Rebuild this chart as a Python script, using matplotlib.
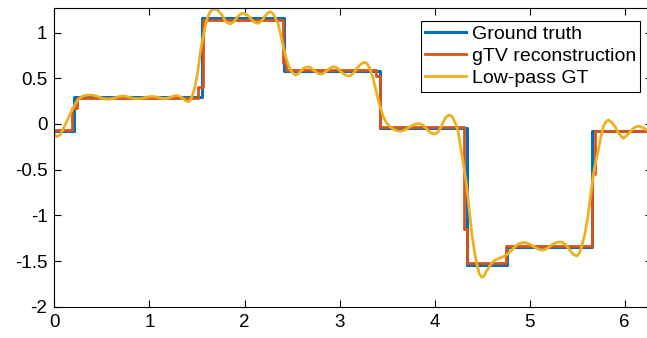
import numpy as np
import matplotlib
matplotlib.use("Agg")
import matplotlib.pyplot as plt

plt.rcParams['font.family'] = ['Liberation Sans', 'DejaVu Sans']
plt.rcParams['axes.unicode_minus'] = False

# ground truth: piecewise constant on [0, 2pi]
gt_edges = [0, 0.203, 1.556, 2.416, 3.426, 4.338, 4.76, 5.66, 2 * np.pi]
gt_levels = [-0.08, 0.29, 1.155, 0.58, -0.05, -1.545, -1.345, -0.08]

# gTV reconstruction (steps, with one transition sample at most jumps)
tv_edges = [0, 0.19, 0.24, 1.514, 1.56, 2.40, 2.437, 3.384, 3.426,
            4.313, 4.34, 4.75, 5.653, 5.69, 2 * np.pi]
tv_levels = [-0.07, 0.17, 0.28, 0.40, 1.14, 0.67, 0.59, 0.52, -0.03,
             -1.153, -1.525, -1.336, -0.548, -0.075]

# low-pass GT
lp_x = [0.000, 0.027, 0.06, 0.10, 0.14, 0.18, 0.22, 0.26, 0.30, 0.35,
        0.39, 0.44, 0.48, 0.52, 0.564, 0.60, 0.64, 0.68, 0.722, 0.76,
        0.80, 0.84, 0.88, 0.92, 0.96, 1.00, 1.03, 1.07, 1.11, 1.14,
        1.174, 1.21, 1.25, 1.287, 1.32, 1.353, 1.38, 1.409, 1.43, 1.455,
        1.48, 1.51, 1.533, 1.56, 1.586, 1.61, 1.639, 1.67, 1.708, 1.74,
        1.764, 1.80, 1.848, 1.89, 1.924, 1.96, 1.995, 2.03, 2.069, 2.10,
        2.145, 2.18, 2.21, 2.245, 2.276, 2.30, 2.321, 2.356, 2.38, 2.408,
        2.435, 2.461, 2.49, 2.532, 2.56, 2.595, 2.63, 2.671, 2.71, 2.742,
        2.78, 2.813, 2.85, 2.879, 2.92, 2.953, 2.99, 3.026, 3.07, 3.11,
        3.15, 3.184, 3.23, 3.268, 3.29, 3.31, 3.335, 3.355, 3.38, 3.408,
        3.435, 3.461, 3.495, 3.531, 3.57, 3.61, 3.647, 3.69, 3.742, 3.79,
        3.82, 3.847, 3.88, 3.921, 3.96, 4.005, 4.04, 4.07, 4.10, 4.13,
        4.155, 4.18, 4.20, 4.225, 4.25, 4.268, 4.302, 4.338, 4.365, 4.391,
        4.417, 4.443, 4.47, 4.496, 4.52, 4.54, 4.565, 4.60, 4.636, 4.68,
        4.723, 4.76, 4.794, 4.84, 4.878, 4.92, 4.962, 5.01, 5.057, 5.10,
        5.144, 5.19, 5.236, 5.29, 5.338, 5.38, 5.415, 5.455, 5.496, 5.52,
        5.541, 5.56, 5.583, 5.61, 5.636, 5.66, 5.688, 5.723, 5.75, 5.775,
        5.80, 5.828, 5.86, 5.899, 5.94, 5.986, 6.03, 6.074, 6.11, 6.144,
        6.19, 6.232, 6.283]
lp_y = [-0.12, -0.14, -0.12, -0.04, 0.05, 0.14, 0.22, 0.28, 0.305, 0.315,
        0.316, 0.305, 0.29, 0.275, 0.27, 0.275, 0.287, 0.30, 0.305, 0.30,
        0.288, 0.278, 0.275, 0.28, 0.29, 0.298, 0.30, 0.295, 0.285, 0.279,
        0.278, 0.288, 0.303, 0.31, 0.30, 0.28, 0.255, 0.243, 0.26, 0.32,
        0.41, 0.58, 0.77, 0.93, 1.06, 1.16, 1.228, 1.255, 1.255, 1.22,
        1.19, 1.12, 1.093, 1.12, 1.17, 1.205, 1.21, 1.19, 1.15, 1.115,
        1.10, 1.13, 1.17, 1.215, 1.227, 1.205, 1.17, 1.09, 0.98, 0.845,
        0.73, 0.644, 0.58, 0.535, 0.545, 0.58, 0.615, 0.626, 0.605, 0.575,
        0.55, 0.546, 0.565, 0.595, 0.622, 0.626, 0.60, 0.56, 0.53, 0.524,
        0.56, 0.61, 0.66, 0.674, 0.66, 0.625, 0.56, 0.49, 0.38, 0.26,
        0.16, 0.079, 0.01, -0.03, -0.06, -0.077, -0.08, -0.065, -0.03, -0.005,
        0.002, 0.003, -0.015, -0.06, -0.10, -0.11, -0.085, -0.03, 0.04, 0.085,
        0.098, 0.085, 0.05, -0.01, -0.09, -0.22, -0.43, -0.68, -0.94, -1.197,
        -1.38, -1.525, -1.64, -1.678, -1.665, -1.62, -1.58, -1.525, -1.489, -1.47,
        -1.453, -1.43, -1.398, -1.35, -1.315, -1.30, -1.30, -1.32, -1.35, -1.375,
        -1.38, -1.36, -1.32, -1.295, -1.292, -1.32, -1.37, -1.425, -1.445, -1.42,
        -1.36, -1.29, -1.197, -1.03, -0.83, -0.64, -0.45, -0.285, -0.14, -0.03,
        0.02, 0.043, 0.02, -0.03, -0.11, -0.158, -0.12, -0.067, -0.035, -0.023,
        -0.04, -0.067, -0.12]

xticks = [0, 1, 2, 3, 4, 5, 6]
yticks = [-2, -1.5, -1, -0.5, 0, 0.5, 1]
ytick_labels = ['-2', '-1.5', '-1', '-0.5', '0', '0.5', '1']

fig = plt.figure(figsize=(6.47, 3.38), dpi=100)
ax = fig.add_axes([0.0841, 0.0926, 0.923, 0.8828])

ax.step(gt_edges, gt_levels + [gt_levels[-1]], where='post',
        color='#0072BD', lw=2.2, label='Ground truth')
ax.step(tv_edges, tv_levels + [tv_levels[-1]], where='post',
        color='#D95319', lw=2.0, label='gTV reconstruction')
ax.plot(lp_x, lp_y, color='#EDB120', lw=2.0, label='Low-pass GT')

ax.set_xlim(0, 2 * np.pi)
ax.set_ylim(-2, 1.265)
ax.set_xticks(xticks)
ax.set_xticklabels([str(t) for t in xticks])
ax.set_yticks(yticks)
ax.set_yticklabels(ytick_labels)
ax.tick_params(direction='in', length=5, width=0.8, labelsize=13.5,
               top=True, right=True, pad=5)
for s in ax.spines.values():
    s.set_linewidth(0.8)
    s.set_color('black')

leg = ax.legend(loc='upper right', bbox_to_anchor=(0.981, 0.958),
                borderaxespad=0, fontsize=14, fancybox=False, framealpha=1,
                edgecolor='black', handlelength=2.1, handletextpad=0.3,
                labelspacing=0.24, borderpad=0.22)
leg.get_frame().set_linewidth(0.8)

fig.savefig('out.png', dpi=100)
